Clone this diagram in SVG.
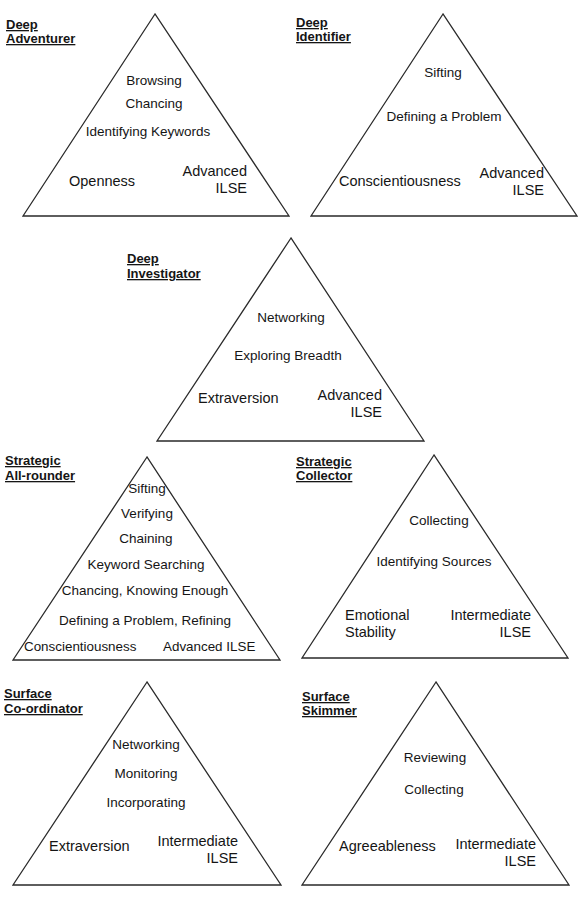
<svg xmlns="http://www.w3.org/2000/svg" width="579" height="905" viewBox="0 0 579 905">
<style>
text{font-family:"Liberation Sans",Arial,sans-serif;fill:#151515}
.t{font-size:13px;font-weight:bold;text-decoration:underline}
.a{font-size:13.5px;text-anchor:middle}
.b{font-size:14.5px}
.r{font-size:14.5px;text-anchor:end}
.s{font-size:13.4px}
.tri{fill:none;stroke:#2a2a2a;stroke-width:1.3}
</style>
<rect width="579" height="905" fill="#fff"/>
<g id="deep-adventurer">
<polygon class="tri" points="155,14 23,216 289,216"/>
<text class="t" x="6" y="29">Deep</text>
<text class="t" x="6" y="43">Adventurer</text>
<text class="a" x="154" y="85">Browsing</text>
<text class="a" x="154" y="108">Chancing</text>
<text class="a" x="148" y="136">Identifying Keywords</text>
<text class="b" x="69" y="186">Openness</text>
<text class="r" x="247" y="176">Advanced</text>
<text class="r" x="247" y="193">ILSE</text>
</g>
<g id="deep-identifier">
<polygon class="tri" points="443,14 311,216 577,216"/>
<text class="t" x="296" y="27">Deep</text>
<text class="t" x="296" y="41">Identifier</text>
<text class="a" x="443" y="77">Sifting</text>
<text class="a" x="444" y="121">Defining a Problem</text>
<text class="b" x="339" y="186">Conscientiousness</text>
<text class="r" x="544" y="178">Advanced</text>
<text class="r" x="544" y="195">ILSE</text>
</g>
<g id="deep-investigator">
<polygon class="tri" points="291,238 157,441 424,441"/>
<text class="t" x="127" y="263">Deep</text>
<text class="t" x="127" y="278">Investigator</text>
<text class="a" x="291" y="322">Networking</text>
<text class="a" x="288" y="360">Exploring Breadth</text>
<text class="b" x="198" y="403">Extraversion</text>
<text class="r" x="382" y="400">Advanced</text>
<text class="r" x="382" y="417">ILSE</text>
</g>
<g id="strategic-all-rounder">
<polygon class="tri" points="147,457 13,660 280,660"/>
<text class="t" x="5" y="465">Strategic</text>
<text class="t" x="5" y="480">All-rounder</text>
<text class="a" x="147" y="493">Sifting</text>
<text class="a" x="147" y="518">Verifying</text>
<text class="a" x="146" y="543">Chaining</text>
<text class="a" x="146" y="569">Keyword Searching</text>
<text class="a" x="145" y="595">Chancing, Knowing Enough</text>
<text class="a" x="145" y="625">Defining a Problem, Refining</text>
<text class="s" x="24" y="651">Conscientiousness</text>
<text class="s" x="163" y="651">Advanced ILSE</text>
</g>
<g id="strategic-collector">
<polygon class="tri" points="434,455 302,658 568,658"/>
<text class="t" x="296" y="466">Strategic</text>
<text class="t" x="296" y="480">Collector</text>
<text class="a" x="439" y="525">Collecting</text>
<text class="a" x="434" y="566">Identifying Sources</text>
<text class="b" x="345" y="620">Emotional</text>
<text class="b" x="345" y="637">Stability</text>
<text class="r" x="531" y="620">Intermediate</text>
<text class="r" x="531" y="637">ILSE</text>
</g>
<g id="surface-co-ordinator">
<polygon class="tri" points="147,682 13,885 281,885"/>
<text class="t" x="4" y="698">Surface</text>
<text class="t" x="4" y="713">Co-ordinator</text>
<text class="a" x="146" y="749">Networking</text>
<text class="a" x="146" y="778">Monitoring</text>
<text class="a" x="146" y="807">Incorporating</text>
<text class="b" x="49" y="851">Extraversion</text>
<text class="r" x="238" y="846">Intermediate</text>
<text class="r" x="238" y="863">ILSE</text>
</g>
<g id="surface-skimmer">
<polygon class="tri" points="436,682 302,885 569,885"/>
<text class="t" x="302" y="701">Surface</text>
<text class="t" x="302" y="715">Skimmer</text>
<text class="a" x="435" y="762">Reviewing</text>
<text class="a" x="434" y="794">Collecting</text>
<text class="b" x="339" y="851">Agreeableness</text>
<text class="r" x="536" y="849">Intermediate</text>
<text class="r" x="536" y="866">ILSE</text>
</g>
<g id="connectors"></g>
</svg>
